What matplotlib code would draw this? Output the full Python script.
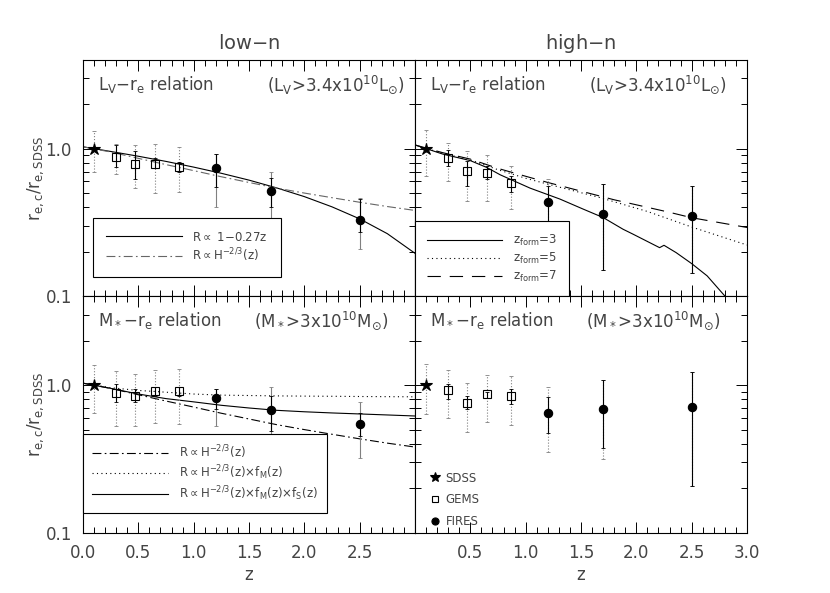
import matplotlib
matplotlib.use('Agg')
import matplotlib.pyplot as plt
import numpy as np
from matplotlib.ticker import MultipleLocator, LogLocator, NullFormatter

plt.rcParams['mathtext.default'] = 'regular'
plt.rcParams['font.family'] = ['DejaVu Sans']

TXT = '#444444'

# redshifts of the samples
z_sdss = [0.1]
z_gems = [0.3, 0.47, 0.65, 0.87]
z_fires = [1.2, 1.7, 2.5]

# --- L_V - r_e, low-n
sdss_lum_low = [1.0]
sdss_lum_low_out = [[0.69], [1.32]]
gems_lum_low = [0.873, 0.79, 0.79, 0.755]
gems_lum_low_in = [[0.746, 0.622, 0.739, 0.70], [1.065, 0.969, 0.864, 0.807]]
gems_lum_low_out = [[0.672, 0.545, 0.497, 0.505], [1.076, 1.06, 1.076, 1.02]]
fires_lum_low = [0.735, 0.515, 0.33]
fires_lum_low_in = [[0.551, 0.403, 0.27], [0.92, 0.628, 0.455]]
fires_lum_low_out = [[0.399, 0.315, 0.208], [0.92, 0.69, 0.466]]

# --- L_V - r_e, high-n
sdss_lum_high = [1.0]
sdss_lum_high_out = [[0.655], [1.35]]
gems_lum_high = [0.859, 0.701, 0.679, 0.581]
gems_lum_high_in = [[0.766, 0.56, 0.622, 0.505], [0.98, 0.83, 0.766, 0.655]]
gems_lum_high_out = [[0.606, 0.443, 0.443, 0.389], [1.10, 0.97, 0.906, 0.766]]
fires_lum_high = [0.438, 0.363, 0.352]
fires_lum_high_in = [[0.312, 0.15, 0.144], [0.56, 0.575, 0.554]]
fires_lum_high_out = [[0.27, 0.15, 0.144], [0.622, 0.575, 0.554]]

# --- M_* - r_e, low-n
sdss_mass_low = [1.0]
sdss_mass_low_out = [[0.652], [1.375]]
gems_mass_low = [0.88, 0.846, 0.91, 0.91]
gems_mass_low_in = [[0.763, 0.763, 0.846, 0.846], [1.016, 0.939, 0.964, 0.964]]
gems_mass_low_out = [[0.529, 0.529, 0.557, 0.543], [1.25, 1.19, 1.265, 1.285]]
fires_mass_low = [0.816, 0.679, 0.543]
fires_mass_low_in = [[0.686, 0.489, 0.452], [0.939, 0.846, 0.652]]
fires_mass_low_out = [[0.529, 0.386, 0.322], [0.939, 0.964, 0.763]]

# --- M_* - r_e, high-n
sdss_mass_high = [1.0]
sdss_mass_high_out = [[0.635], [1.39]]
gems_mass_high = [0.929, 0.762, 0.865, 0.845]
gems_mass_high_in = [[0.80, 0.686, 0.812, 0.743], [1.016, 0.846, 0.90, 0.939]]
gems_mass_high_out = [[0.603, 0.484, 0.563, 0.535], [1.27, 1.04, 1.17, 1.146]]
fires_mass_high = [0.652, 0.694, 0.712]
fires_mass_high_in = [[0.477, 0.373, 0.209], [0.837, 1.08, 1.23]]
fires_mass_high_out = [[0.354, 0.317, 0.209], [0.964, 1.08, 1.23]]

# model curves
z_model = [0.0, 0.25, 0.5, 0.75, 1.0, 1.25, 1.5, 1.75, 2.0, 2.25, 2.5, 2.75, 3.0]
model_linear = [1.03, 0.958, 0.889, 0.820, 0.750, 0.681, 0.612, 0.542, 0.473,
                0.403, 0.334, 0.265, 0.195]
model_hubble = [1.03, 0.95, 0.86, 0.78, 0.71, 0.645, 0.59, 0.54, 0.50, 0.465,
                0.433, 0.405, 0.381]
model_hubble_fm = [1.03, 0.96, 0.92, 0.895, 0.87, 0.855, 0.85, 0.845, 0.842,
                   0.84, 0.837, 0.835, 0.833]
model_hubble_fm_fs = [1.03, 0.95, 0.87, 0.81, 0.77, 0.73, 0.70, 0.675, 0.66,
                      0.648, 0.638, 0.628, 0.618]

z_form3 = [0.0, 0.25, 0.5, 0.65, 0.77, 1.04, 1.31, 1.52, 1.70, 1.88, 1.97,
           2.21, 2.25, 2.36, 2.50, 2.64, 2.80]
val_form3 = [1.06, 0.92, 0.83, 0.745, 0.665, 0.54, 0.455, 0.389, 0.341, 0.284,
             0.263, 0.213, 0.221, 0.197, 0.166, 0.137, 0.1]
z_form5 = [0.0, 0.25, 0.5, 0.75, 1.0, 1.2, 1.67, 2.1, 2.5, 3.0]
val_form5 = [1.06, 0.93, 0.84, 0.72, 0.63, 0.575, 0.466, 0.375, 0.294, 0.222]
z_form7 = [0.0, 0.25, 0.5, 0.75, 1.0, 1.2, 1.8, 2.3, 2.5, 3.0]
val_form7 = [1.06, 0.94, 0.85, 0.735, 0.65, 0.59, 0.45, 0.37, 0.34, 0.292]


def draw_points(ax, vals, inner, outer, z, marker, ms, mfc, outer_ls=':'):
    vals = np.array(vals)
    if outer is not None:
        lo, hi = np.array(outer[0]), np.array(outer[1])
        eb = ax.errorbar(z, vals, yerr=[vals - lo, hi - vals], fmt='none',
                         ecolor='0.5', elinewidth=0.8, capsize=1.5, capthick=0.6)
        eb[2][0].set_linestyle(outer_ls)
    if inner is not None:
        lo, hi = np.array(inner[0]), np.array(inner[1])
        ax.errorbar(z, vals, yerr=[vals - lo, hi - vals], fmt='none',
                    ecolor='k', elinewidth=0.8, capsize=1.5, capthick=0.6)
    line, = ax.plot(z, vals, ls='none', marker=marker, ms=ms, mfc=mfc,
                    mec='k', mew=0.8, color='k', zorder=5)
    return line


def boxed_legend(ax, anchor, **kw):
    leg = ax.legend(loc='lower left', bbox_to_anchor=anchor, fontsize=8.5,
                    handletextpad=0.9, fancybox=False, edgecolor='k',
                    framealpha=1, borderaxespad=0, labelcolor=TXT, **kw)
    leg.get_frame().set_linewidth(0.8)
    return leg


fig = plt.figure(figsize=(8.3, 5.93), dpi=100)
x0, xm, x1 = 0.1, 0.5, 0.9
y0, ym, y1 = 0.1012, 0.5008, 0.8988
ax_tl = fig.add_axes([x0, ym, xm - x0, y1 - ym])
ax_tr = fig.add_axes([xm, ym, x1 - xm, y1 - ym])
ax_bl = fig.add_axes([x0, y0, xm - x0, ym - y0])
ax_br = fig.add_axes([xm, y0, x1 - xm, ym - y0])

for ax in (ax_tl, ax_tr, ax_bl, ax_br):
    ax.set_yscale('log')
    ax.set_xlim(0, 3.0)
    ax.set_ylim(0.1, 4.0)
    ax.xaxis.set_major_locator(MultipleLocator(0.5))
    ax.xaxis.set_minor_locator(MultipleLocator(0.1))
    ax.set_yticks([0.1, 1.0])
    ax.set_yticklabels(['0.1', '1.0'])
    ax.yaxis.set_minor_locator(LogLocator(subs=np.arange(2, 10)))
    ax.yaxis.set_minor_formatter(NullFormatter())
    ax.tick_params(which='both', direction='in', top=True, right=True,
                   labelsize=12, labelcolor=TXT, width=0.7)
    ax.tick_params(which='major', length=8, pad=8)
    ax.tick_params(which='minor', length=4)
    for sp in ax.spines.values():
        sp.set_linewidth(0.8)

for ax in (ax_tl, ax_tr):
    ax.tick_params(labelbottom=False)
for ax in (ax_tr, ax_br):
    ax.tick_params(labelleft=False)
ax_bl.set_xticks([0.0, 0.5, 1.0, 1.5, 2.0, 2.5])
ax_bl.set_xticklabels(['0.0', '0.5', '1.0', '1.5', '2.0', '2.5'])
ax_br.set_xticks([0.5, 1.0, 1.5, 2.0, 2.5, 3.0])
ax_br.set_xticklabels(['0.5', '1.0', '1.5', '2.0', '2.5', '3.0'])
ax_bl.xaxis.set_minor_locator(MultipleLocator(0.1))
ax_br.xaxis.set_minor_locator(MultipleLocator(0.1))

# top-left
ax = ax_tl
ax.plot(z_model, model_linear, color='k', lw=0.8, label=r'R$\propto$ 1$-$0.27z')
ax.plot(z_model, model_hubble, color='0.4', lw=0.8, dashes=(8, 3, 1.5, 3),
        label=r'R$\propto$H$^{-2/3}$(z)')
draw_points(ax, sdss_lum_low, None, sdss_lum_low_out, z_sdss, '*', 9, 'k')
draw_points(ax, gems_lum_low, gems_lum_low_in, gems_lum_low_out, z_gems, 's', 5.5, 'none')
draw_points(ax, fires_lum_low, fires_lum_low_in, fires_lum_low_out, z_fires, 'o', 6, 'k', '-')
boxed_legend(ax, (0.03, 0.08), handlelength=6.4, labelspacing=0.25, borderpad=1.1)

# top-right
ax = ax_tr
ax.plot(z_form3, val_form3, color='k', lw=0.8, label=r'z$_{form}$=3')
ax.plot(z_form5, val_form5, color='k', lw=0.8, ls=(0, (1, 3)), label=r'z$_{form}$=5')
ax.plot(z_form7, val_form7, color='k', lw=0.8, dashes=(12, 8), label=r'z$_{form}$=7')
draw_points(ax, sdss_lum_high, None, sdss_lum_high_out, z_sdss, '*', 9, 'k')
draw_points(ax, gems_lum_high, gems_lum_high_in, gems_lum_high_out, z_gems, 's', 5.5, 'none')
draw_points(ax, fires_lum_high, fires_lum_high_in, fires_lum_high_out, z_fires, 'o', 6, 'k')
boxed_legend(ax, (0.0, 0.0), handlelength=6.4, labelspacing=0.25, borderpad=1.0)

# bottom-left
ax = ax_bl
ax.plot(z_model, model_hubble, color='k', lw=0.8, dashes=(8, 3, 1.5, 3),
        label=r'R$\propto$H$^{-2/3}$(z)')
ax.plot(z_model, model_hubble_fm, color='k', lw=0.8, ls=(0, (1, 3)),
        label=r'R$\propto$H$^{-2/3}$(z)$\times$f$_M$(z)')
ax.plot(z_model, model_hubble_fm_fs, color='k', lw=0.8,
        label=r'R$\propto$H$^{-2/3}$(z)$\times$f$_M$(z)$\times$f$_S$(z)')
draw_points(ax, sdss_mass_low, None, sdss_mass_low_out, z_sdss, '*', 9, 'k')
draw_points(ax, gems_mass_low, gems_mass_low_in, gems_mass_low_out, z_gems, 's', 5.5, 'none')
draw_points(ax, fires_mass_low, fires_mass_low_in, fires_mass_low_out, z_fires, 'o', 6, 'k', '-')
boxed_legend(ax, (0.0, 0.085), handlelength=6.4, labelspacing=0.2, borderpad=0.8)

# bottom-right
ax = ax_br
h_sdss = draw_points(ax, sdss_mass_high, None, sdss_mass_high_out, z_sdss, '*', 9, 'k')
h_gems = draw_points(ax, gems_mass_high, gems_mass_high_in, gems_mass_high_out, z_gems, 's', 5.5, 'none')
h_fires = draw_points(ax, fires_mass_high, fires_mass_high_in, fires_mass_high_out, z_fires, 'o', 6, 'k')
ax.legend([h_sdss, h_gems, h_fires], ['SDSS', 'GEMS', 'FIRES'],
          loc='lower left', bbox_to_anchor=(0.01, -0.025), fontsize=8.5,
          frameon=False, handlelength=1.0, handletextpad=0.4, labelspacing=0.75,
          labelcolor=TXT, markerscale=0.85)

# panel annotations
lum_left = r'L$_V$$-$r$_e$ relation'
lum_right = r'(L$_V$>3.4x10$^{10}$L$_{{\odot}}$)'
mass_left = r'M$_*$$-$r$_e$ relation'
mass_right = r'(M$_*$>3x10$^{10}$M$_{{\odot}}$)'
for ax, l, r, xr in ((ax_tl, lum_left, lum_right, 0.97),
                     (ax_tr, lum_left, lum_right, 0.94),
                     (ax_bl, mass_left, mass_right, 0.92),
                     (ax_br, mass_left, mass_right, 0.92)):
    ax.text(0.045, 0.895, l, transform=ax.transAxes, fontsize=12, color=TXT,
            va='center', ha='left')
    ax.text(xr, 0.895, r, transform=ax.transAxes, fontsize=12, color=TXT,
            va='center', ha='right')

ax_tl.set_title('low$-$n', fontsize=14, color=TXT, pad=8)
ax_tr.set_title('high$-$n', fontsize=14, color=TXT, pad=8)
for ax in (ax_bl, ax_br):
    ax.set_xlabel('z', fontsize=12, color=TXT, labelpad=3)
for ax in (ax_tl, ax_bl):
    ax.set_ylabel(r'r$_{e,c}$/r$_{e,SDSS}$', fontsize=12, color=TXT, labelpad=0)

fig.savefig('out.png', dpi=100)
